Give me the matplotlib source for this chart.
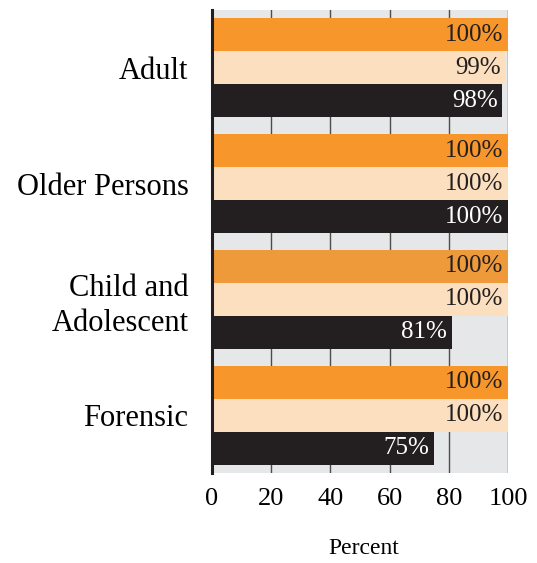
import matplotlib
matplotlib.use("Agg")
import matplotlib.pyplot as plt
import numpy as np

categories = ["Adult", "Older Persons", "Child and\nAdolescent", "Forensic"]
series_a = [100, 100, 100, 100]
series_b = [99, 100, 100, 100]
series_c = [98, 100, 81, 75]
x_ticks = [0, 20, 40, 60, 80, 100]

orange = ["#F7962A", "#F7962A", "#EE9A3A", "#F7962A"]
peach = "#FBDFBF"
dark = "#231F20"
bg = "#E6E7E8"

plt.rcParams["font.family"] = ["Liberation Serif", "DejaVu Serif"]

fig = plt.figure(figsize=(5.37, 5.63), dpi=100)
ax = fig.add_axes([212 / 537, 1 - 473 / 563, 296 / 537, 463 / 563])
ax.set_facecolor(bg)

pos = np.arange(len(categories))
h = 0.285
ax.barh(pos - h, series_a, height=h, color=orange, zorder=3)
ax.barh(pos, series_b, height=h, color=peach, zorder=3)
ax.barh(pos + h, series_c, height=h, color=dark, zorder=3)

for i in range(len(categories)):
    ax.text(series_a[i] - 1.5, pos[i] - h, f"{series_a[i]}%", ha="right", va="center",
            fontsize=18, color="#231F20", zorder=4)
    ax.text(series_b[i] - 1.5, pos[i], f"{series_b[i]}%", ha="right", va="center",
            fontsize=18, color="#231F20", zorder=4)
    ax.text(series_c[i] - 1.5, pos[i] + h, f"{series_c[i]}%", ha="right", va="center",
            fontsize=18, color="white", zorder=4)

ax.set_xlim(0, 100)
ax.set_ylim(3.5, -0.5)
ax.set_xticks(x_ticks)
ax.set_xticklabels([str(t) for t in x_ticks], fontsize=19)
ax.set_yticks(pos)
ax.set_yticklabels(categories, fontsize=22, ha="right", linespacing=1.3)
ax.tick_params(axis="x", length=0, pad=11)
ax.tick_params(axis="y", length=0, pad=17)
ax.xaxis.grid(True, color="#4D4D4D", linewidth=1.0, zorder=1)
ax.set_axisbelow(True)

for s in ["top", "right", "bottom"]:
    ax.spines[s].set_visible(False)
ax.spines["left"].set_color("#231F20")
ax.spines["left"].set_linewidth(2.2)
ax.spines["left"].set_zorder(5)

fig.text(364 / 537, 1 - 549 / 563, "Percent", ha="center", va="center", fontsize=17)

fig.savefig("out.png", dpi=100)
